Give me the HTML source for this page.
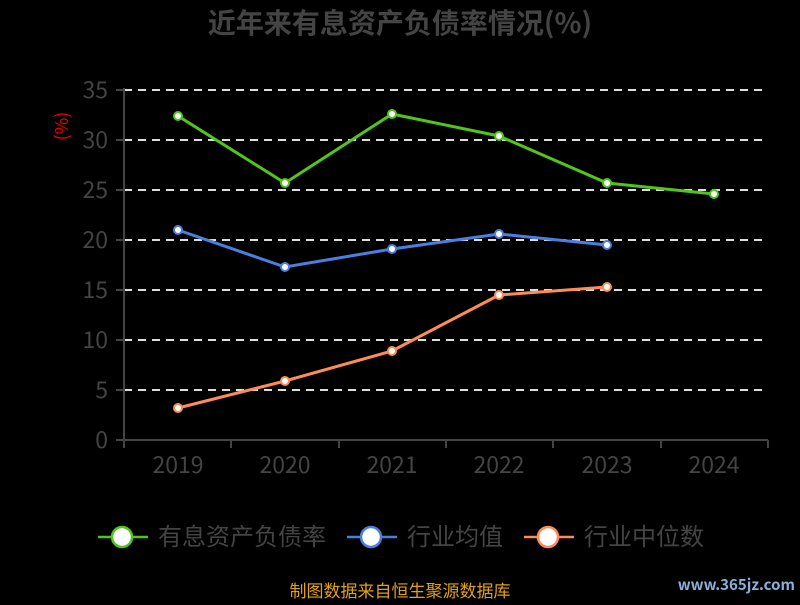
<!DOCTYPE html>
<html><head><meta charset="utf-8"><style>
body{margin:0;background:#000;}
svg text{font-family:"Noto Sans CJK SC","Liberation Sans",sans-serif;}
</style></head><body>
<svg width="800" height="600" xmlns="http://www.w3.org/2000/svg">
<rect width="800" height="600" fill="#000"/>
<text x="400" y="33" text-anchor="middle" font-size="28" font-weight="bold" fill="#444">近年来有息资产负债率情况(%)</text>
<text transform="translate(68,126) rotate(-90)" text-anchor="middle" font-size="18" fill="#e00">(%)</text>
<g stroke="#ddd" stroke-width="2" stroke-dasharray="8,6">
<line x1="124" y1="90" x2="768" y2="90"/><line x1="124" y1="140" x2="768" y2="140"/>
<line x1="124" y1="190" x2="768" y2="190"/><line x1="124" y1="240" x2="768" y2="240"/>
<line x1="124" y1="290" x2="768" y2="290"/><line x1="124" y1="340" x2="768" y2="340"/>
<line x1="124" y1="390" x2="768" y2="390"/>
</g>
<g stroke="#444" stroke-width="2">
<line x1="124" y1="88" x2="124" y2="440"/>
<line x1="124" y1="440" x2="768" y2="440"/>
<line x1="116" y1="90" x2="124" y2="90"/><line x1="116" y1="140" x2="124" y2="140"/><line x1="116" y1="190" x2="124" y2="190"/><line x1="116" y1="240" x2="124" y2="240"/><line x1="116" y1="290" x2="124" y2="290"/><line x1="116" y1="340" x2="124" y2="340"/><line x1="116" y1="390" x2="124" y2="390"/><line x1="116" y1="440" x2="124" y2="440"/>
<line x1="124" y1="440" x2="124" y2="448"/><line x1="231" y1="440" x2="231" y2="448"/><line x1="339" y1="440" x2="339" y2="448"/><line x1="446" y1="440" x2="446" y2="448"/><line x1="553" y1="440" x2="553" y2="448"/><line x1="661" y1="440" x2="661" y2="448"/><line x1="768" y1="440" x2="768" y2="448"/>
</g>
<g font-size="23" fill="#444" text-anchor="end">
<text x="108" y="98">35</text><text x="108" y="148">30</text><text x="108" y="198">25</text><text x="108" y="248">20</text><text x="108" y="298">15</text><text x="108" y="348">10</text><text x="108" y="398">5</text><text x="108" y="448">0</text>
</g>
<g font-size="23" fill="#444" text-anchor="middle">
<text x="178" y="473">2019</text><text x="285" y="473">2020</text><text x="392" y="473">2021</text><text x="499" y="473">2022</text><text x="607" y="473">2023</text><text x="714" y="473">2024</text>
</g>
<g fill="none" stroke-width="3">
<polyline stroke="#52c41a" points="178,116 285,183 392,114 499,136 607,183 714,194"/>
<polyline stroke="#4a7fe0" points="178,230 285,267 392,249 499,234 607,245"/>
<polyline stroke="#ff8c55" points="178,408 285,381 392,351 499,295 607,287"/>
</g>
<g fill="#fff" stroke-width="2">
<g stroke="#52c41a"><circle cx="178" cy="116" r="4"/><circle cx="285" cy="183" r="4"/><circle cx="392" cy="114" r="4"/><circle cx="499" cy="136" r="4"/><circle cx="607" cy="183" r="4"/><circle cx="714" cy="194" r="4"/></g>
<g stroke="#4a7fe0"><circle cx="178" cy="230" r="4"/><circle cx="285" cy="267" r="4"/><circle cx="392" cy="249" r="4"/><circle cx="499" cy="234" r="4"/><circle cx="607" cy="245" r="4"/></g>
<g stroke="#ff8c55"><circle cx="178" cy="408" r="4"/><circle cx="285" cy="381" r="4"/><circle cx="392" cy="351" r="4"/><circle cx="499" cy="295" r="4"/><circle cx="607" cy="287" r="4"/></g>
</g>
<g stroke-width="2.5">
<line x1="98" y1="537" x2="148" y2="537" stroke="#52c41a"/><circle cx="122" cy="537" r="10" fill="#fff" stroke="#52c41a"/>
<line x1="347" y1="537" x2="397" y2="537" stroke="#4a7fe0"/><circle cx="371" cy="537" r="10" fill="#fff" stroke="#4a7fe0"/>
<line x1="524" y1="537" x2="574" y2="537" stroke="#ff8c55"/><circle cx="548" cy="537" r="10" fill="#fff" stroke="#ff8c55"/>
</g>
<g font-size="24" fill="#444">
<text x="158" y="545">有息资产负债率</text><text x="407" y="545">行业均值</text><text x="584" y="545">行业中位数</text>
</g>
<text x="400" y="597" text-anchor="middle" font-size="17" fill="#e0a020">制图数据来自恒生聚源数据库</text>
<text x="795" y="590" text-anchor="end" font-size="15" font-weight="bold" fill="#8ab0d8" font-family="Liberation Sans">www.365jz.com</text>
</svg>
</body></html>
